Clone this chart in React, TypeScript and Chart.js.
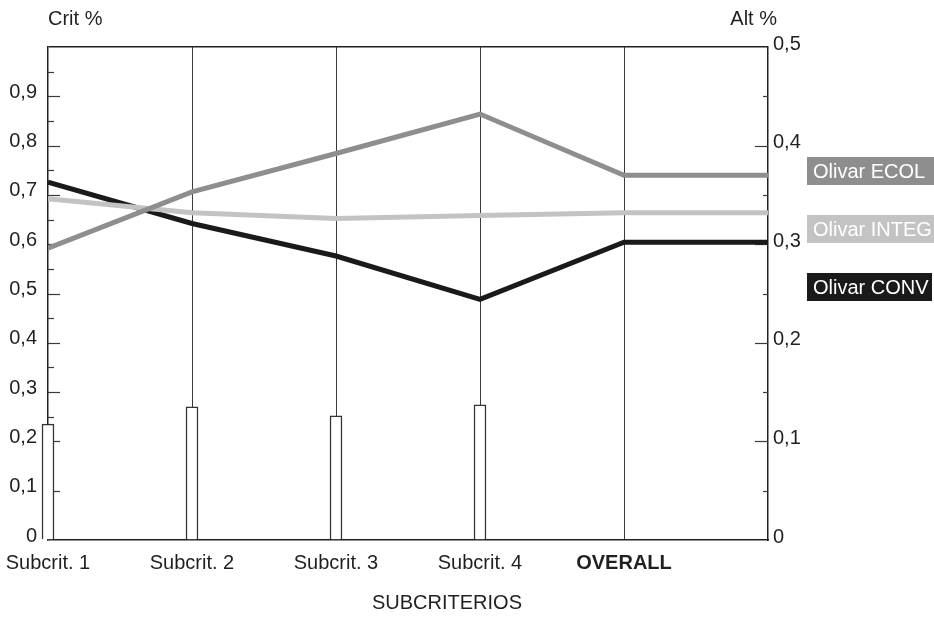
import React, { useEffect, useRef } from "react";
import { Chart, registerables } from "chart.js";

Chart.register(...registerables);

const CATEGORIES = ["Subcrit. 1", "Subcrit. 2", "Subcrit. 3", "Subcrit. 4", "OVERALL"];
const CRIT_WEIGHTS = [0.235, 0.27, 0.252, 0.274];
const ECOL = [0.296, 0.353, 0.392, 0.432, 0.37];
const INTEG = [0.346, 0.332, 0.326, 0.329, 0.332];
const CONV = [0.363, 0.321, 0.288, 0.244, 0.302];
const SERIES_NAMES = ["Olivar ECOL", "Olivar INTEG", "Olivar CONV"];
const SERIES_COLORS = ["#8e8e8e", "#c3c3c3", "#1a1a1a"];
const LEFT_TITLE = "Crit %";
const RIGHT_TITLE = "Alt %";
const X_TITLE = "SUBCRITERIOS";

const FONT = "'Liberation Sans', Arial, Helvetica, sans-serif";
const TEXT = "#231f20";

const fmt = (v: number) => (Math.abs(v) < 1e-9 ? "0" : v.toFixed(1).replace(".", ","));

// extend the OVERALL value flat to the right edge of the plot
const toPoints = (vals: number[]) => {
  const pts = vals.map((y, i) => ({ x: i, y }));
  pts.push({ x: vals.length, y: vals[vals.length - 1] });
  return pts;
};

const decor = {
  id: "decor",
  beforeDatasetsDraw(chart: any) {
    const { ctx, chartArea } = chart;
    const y = chart.scales.y;
    const y1 = chart.scales.y1;
    ctx.save();
    ctx.strokeStyle = "#3a3a3a";
    ctx.lineWidth = 1.2;
    const line = (x1: number, yy: number, x2: number) => {
      ctx.beginPath();
      ctx.moveTo(x1, yy);
      ctx.lineTo(x2, yy);
      ctx.stroke();
    };
    for (let i = 1; i < 20; i++) {
      const py = Math.round(y.getPixelForValue(i * 0.05)) + 0.5;
      line(chartArea.left, py, chartArea.left + (i % 2 === 0 ? 12 : 6));
    }
    for (let i = 1; i < 10; i++) {
      const py = Math.round(y1.getPixelForValue(i * 0.05)) + 0.5;
      line(chartArea.right - (i % 2 === 0 ? 13 : 5), py, chartArea.right);
    }
    ctx.restore();
  },
  afterDraw(chart: any) {
    const { ctx, chartArea } = chart;
    ctx.save();
    ctx.font = `20px ${FONT}`;
    ctx.fillStyle = TEXT;
    ctx.textBaseline = "middle";
    ctx.textAlign = "left";
    ctx.fillText(LEFT_TITLE, chartArea.left, 19);
    ctx.textAlign = "right";
    ctx.fillText(RIGHT_TITLE, chartArea.right + 9, 19);
    ctx.textAlign = "center";
    ctx.fillText(X_TITLE, 447, 603);
    // legend boxes
    const boxX = 807;
    const boxTops = [157, 215, 273];
    SERIES_NAMES.forEach((name, i) => {
      ctx.fillStyle = SERIES_COLORS[i];
      const w = i === 2 ? 125 : 127;
      ctx.fillRect(boxX, boxTops[i], w, 28);
      ctx.fillStyle = "#ffffff";
      ctx.textAlign = "left";
      ctx.fillText(name, boxX + 6, boxTops[i] + 15);
    });
    ctx.restore();
  },
};

export default function App() {
  const ref = useRef<HTMLCanvasElement | null>(null);

  useEffect(() => {
    if (!ref.current) return;
    Chart.defaults.font.family = FONT;
    const chart = new Chart(ref.current, {
      type: "line",
      data: {
        datasets: [
          ...[ECOL, INTEG, CONV].map((vals, i) => ({
            type: "line" as const,
            label: SERIES_NAMES[i],
            data: toPoints(vals),
            borderColor: SERIES_COLORS[i],
            borderWidth: 5,
            pointRadius: 0,
            tension: 0,
            borderJoinStyle: "miter" as const,
            yAxisID: "y1",
            xAxisID: "x",
            order: i + 1,
          })),
          {
            type: "bar" as const,
            label: "Crit",
            data: CRIT_WEIGHTS.map((y, i) => ({ x: i, y })),
            backgroundColor: "#ffffff",
            borderColor: "#333333",
            borderWidth: 1.5,
            barThickness: 12,
            yAxisID: "y",
            xAxisID: "x",
            clip: false as any,
            order: 10,
          },
        ],
      } as any,
      options: {
        animation: false,
        responsive: false,
        layout: { padding: { top: 47, left: 0, right: 0, bottom: 0 } },
        plugins: { legend: { display: false }, tooltip: { enabled: false } },
        scales: {
          x: {
            type: "linear",
            position: "bottom",
            offset: false,
            min: 0,
            max: CATEGORIES.length,
            afterFit: (s: any) => {
              s.height = 78;
              s.paddingLeft = 0;
              s.paddingRight = 0;
            },
            ticks: {
              stepSize: 1,
              autoSkip: false,
              maxRotation: 0,
              padding: 11,
              color: TEXT,
              font: (ctx: any) => ({
                size: 20,
                family: FONT,
                weight: ctx.tick && ctx.tick.value === CATEGORIES.length - 1 ? "bold" : "normal",
              }),
              callback: (v: any) => CATEGORIES[Number(v)] ?? "",
            },
            grid: {
              offset: false,
              drawTicks: false,
              lineWidth: 1,
              color: (ctx: any) =>
                ctx.tick && ctx.tick.value > 0 && ctx.tick.value < CATEGORIES.length ? "#3a3a3a" : "rgba(0,0,0,0)",
            },
            border: { display: true, color: "#231f20", width: 1.5 },
          },
          y: {
            type: "linear",
            position: "left",
            min: 0,
            max: 1,
            afterFit: (s: any) => {
              s.width = 48;
            },
            ticks: {
              stepSize: 0.1,
              padding: 11,
              labelOffset: -4,
              color: TEXT,
              font: { size: 20, family: FONT },
              callback: (v: any) => (Number(v) >= 0.999 ? "" : fmt(Number(v))),
            },
            grid: {
              drawTicks: false,
              lineWidth: 1.5,
              color: (ctx: any) => (ctx.tick && ctx.tick.value >= 0.999 ? "#231f20" : "rgba(0,0,0,0)"),
            },
            border: { display: true, color: "#231f20", width: 1.5 },
          },
          y1: {
            type: "linear",
            position: "right",
            min: 0,
            max: 0.5,
            afterFit: (s: any) => {
              s.width = 166;
            },
            ticks: {
              stepSize: 0.1,
              padding: 5,
              labelOffset: -3,
              color: TEXT,
              font: { size: 20, family: FONT },
              callback: (v: any) => fmt(Number(v)),
            },
            grid: { display: false, drawTicks: false },
            border: { display: true, color: "#231f20", width: 1.5 },
          },
        },
      } as any,
      plugins: [decor],
    });
    return () => chart.destroy();
  }, []);

  return (
    <div style={{ position: "absolute", left: 0, top: 0, width: 934, height: 618, background: "#fff" }}>
      <canvas ref={ref} width={934} height={618} style={{ display: "block" }} />
    </div>
  );
}
